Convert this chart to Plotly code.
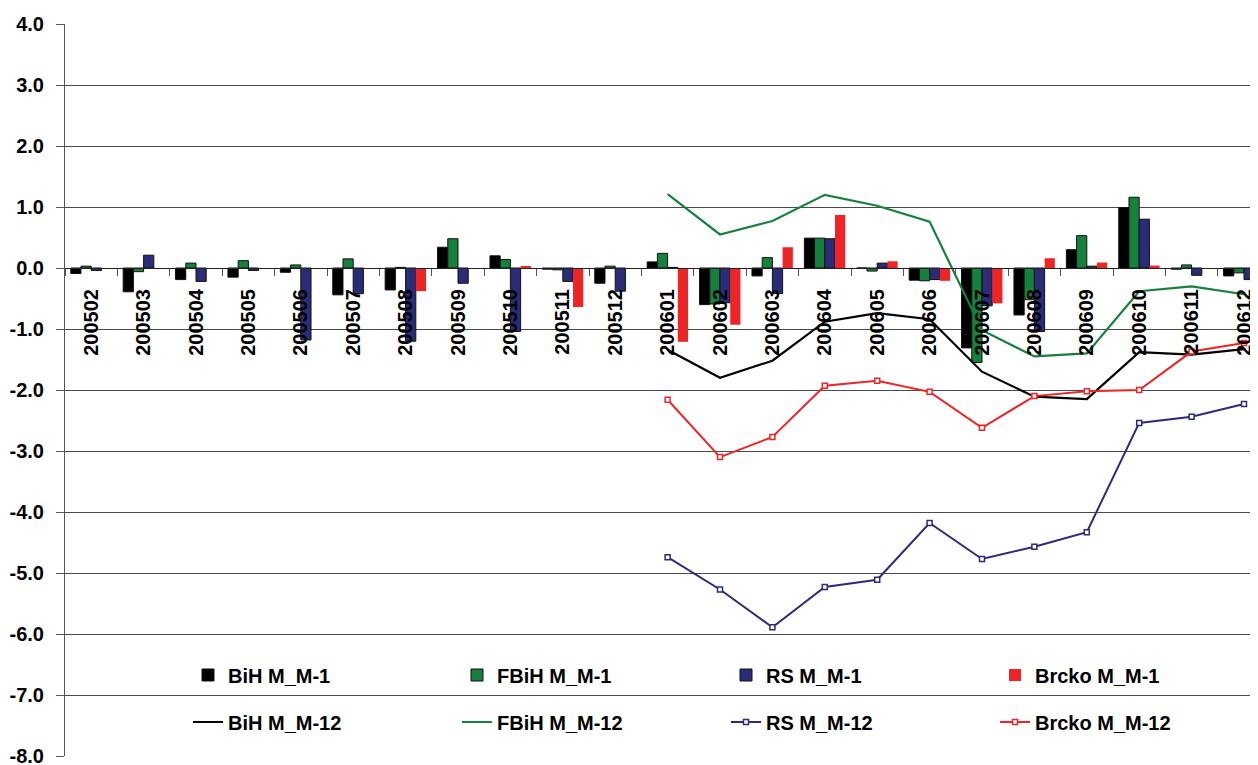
import plotly.graph_objects as go

categories = ["200502", "200503", "200504", "200505", "200506", "200507", "200508",
              "200509", "200510", "200511", "200512", "200601", "200602", "200603",
              "200604", "200605", "200606", "200607", "200608", "200609", "200610",
              "200611", "200612"]

bih_m1 = [-0.09, -0.39, -0.19, -0.15, -0.07, -0.44, -0.36, 0.34, 0.20, -0.02, -0.25,
          0.10, -0.60, -0.13, 0.49, 0.00, -0.20, -1.31, -0.77, 0.30, 0.99, -0.02, -0.13]
fbih_m1 = [0.03, -0.06, 0.08, 0.12, 0.05, 0.15, 0.01, 0.48, 0.14, -0.03, 0.03,
           0.24, -0.59, 0.17, 0.49, -0.05, -0.21, -1.55, -0.52, 0.53, 1.16, 0.05, -0.08]
rs_m1 = [-0.04, 0.21, -0.22, -0.04, -1.18, -0.42, -1.20, -0.25, -1.04, -0.22, -0.38,
         0.01, -0.57, -0.42, 0.48, 0.08, -0.19, -0.62, -1.04, 0.03, 0.80, -0.12, -0.19]
brcko_m1 = [0.00, 0.00, 0.00, 0.00, 0.00, 0.00, -0.38, 0.00, 0.03, -0.64, 0.00,
            -1.21, -0.93, 0.34, 0.87, 0.11, -0.21, -0.58, 0.16, 0.09, 0.04, 0.00, 0.15]

bih_m12 = [None] * 11 + [-1.34, -1.80, -1.52, -0.88, -0.74, -0.84, -1.70, -2.11, -2.15, -1.38, -1.42, -1.33]
fbih_m12 = [None] * 11 + [1.21, 0.55, 0.77, 1.20, 1.02, 0.76, -1.02, -1.45, -1.40, -0.38, -0.30, -0.43]
rs_m12 = [None] * 11 + [-4.74, -5.27, -5.89, -5.23, -5.11, -4.18, -4.77, -4.57, -4.33, -2.54, -2.44, -2.23]
brcko_m12 = [None] * 11 + [-2.16, -3.10, -2.77, -1.93, -1.85, -2.03, -2.62, -2.10, -2.02, -2.00, -1.37, -1.23]

y_tickvals = [4, 3, 2, 1, 0, -1, -2, -3, -4, -5, -6, -7, -8]
y_ticktext = ["4.0", "3.0", "2.0", "1.0", "0.0", "-1.0", "-2.0", "-3.0", "-4.0",
              "-5.0", "-6.0", "-7.0", "-8.0"]

FONT = "Liberation Sans, Arial, sans-serif"
BLACK = "#000000"
GREEN = "#16803D"
NAVY = "#2A2C78"
RED = "#EE2427"

fig = go.Figure()

bars = [
    ("BiH M_M-1", bih_m1, BLACK, 1),
    ("FBiH M_M-1", fbih_m1, GREEN, 1),
    ("RS M_M-1", rs_m1, NAVY, 1),
    ("Brcko M_M-1", brcko_m1, RED, 0),
]
for name, vals, col, lw in bars:
    fig.add_trace(go.Bar(
        x=categories, y=vals, name=name, legend="legend",
        marker=dict(color=col, line=dict(color="#111111", width=lw)),
    ))

lines = [
    ("BiH M_M-12", bih_m12, BLACK, None),
    ("FBiH M_M-12", fbih_m12, GREEN, None),
    ("RS M_M-12", rs_m12, NAVY, "square"),
    ("Brcko M_M-12", brcko_m12, RED, "square"),
]
for name, vals, col, sym in lines:
    if sym:
        fig.add_trace(go.Scatter(
            x=categories, y=vals, name=name, legend="legend2",
            mode="lines+markers",
            line=dict(color=col, width=2),
            marker=dict(symbol=sym, size=5, color="white", line=dict(color=col, width=1.5)),
        ))
    else:
        fig.add_trace(go.Scatter(
            x=categories, y=vals, name=name, legend="legend2",
            mode="lines", line=dict(color=col, width=2.2),
        ))

# The page body adds an 8px offset, so the figure is laid out 8px up/left.
H, W = 765, 1258
OFF = 8
mt, mb, ml, mr = 24 - OFF, H - (756 - OFF), 65 - OFF, 0
ph = H - mt - mb
pw = W - ml - mr

def py(p):  # window pixel -> paper y
    return (756 - p) / ph

def px(p):  # window pixel -> paper x
    return (p - 65) / pw

x_end = -0.5 + pw / 52.4

fig.add_shape(type="rect", xref="paper", yref="paper",
              x0=px(142), x1=px(1218), y0=py(750), y1=py(640),
              fillcolor="white", line=dict(width=0), layer="between")

legend_font = dict(family=FONT, size=20, color="black", weight="bold")

fig.update_layout(
    width=W, height=H,
    margin=dict(l=ml, r=mr, t=mt, b=mb, pad=0, autoexpand=False),
    paper_bgcolor="white", plot_bgcolor="white",
    barmode="group", bargap=0.22, bargroupgap=0,
    showlegend=True,
    legend=dict(orientation="h", x=px(188), y=py(675), xanchor="left", yanchor="middle",
                entrywidth=224, entrywidthmode="pixels", bgcolor="rgba(0,0,0,0)",
                font=legend_font, traceorder="normal"),
    legend2=dict(orientation="h", x=px(188), y=py(722), xanchor="left", yanchor="middle",
                 entrywidth=224, entrywidthmode="pixels", bgcolor="rgba(0,0,0,0)",
                 font=legend_font, traceorder="normal"),
    xaxis=dict(
        type="category", range=[-0.5, x_end], automargin=False,
        anchor="free", position=py(268),
        showline=True, linecolor="#222222", linewidth=1,
        ticks="outside", tickson="boundaries", ticklen=7, tickcolor="#555555",
        tickangle=-90, ticklabelstandoff=12,
        tickfont=dict(family=FONT, size=20, color="black", weight="bold"),
        showgrid=False, zeroline=False,
    ),
    yaxis=dict(
        range=[-8, 4], tickvals=y_tickvals, ticktext=y_ticktext, automargin=False,
        showgrid=True, gridcolor="#4a4a4a", gridwidth=1,
        zeroline=False,
        showline=True, linecolor="#555555", linewidth=1,
        ticks="outside", ticklen=8, tickcolor="#555555",
        ticklabelstandoff=8,
        tickfont=dict(family=FONT, size=20, color="black", weight="bold"),
    ),
)

fig.write_html("out.html")
